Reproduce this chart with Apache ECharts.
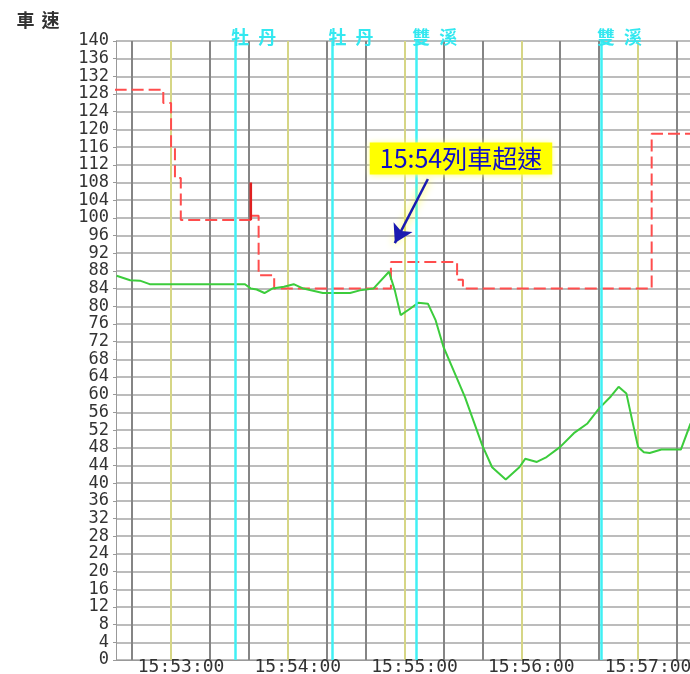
<!DOCTYPE html>
<html><head><meta charset="utf-8">
<script src="https://cdn.jsdelivr.net/npm/echarts@6/dist/echarts.min.js"></script>
<style>html,body{margin:0;padding:0;background:#fff}#c{width:690px;height:674px}</style>
</head><body><div id="c"></div>
<script>
// ---- data ----
const limitSteps = [['15:52:31',129],['15:52:56',126],['15:53:00',116],['15:53:02',109],['15:53:05',99.5],['15:53:41',100.5],['15:53:45',87],['15:53:53',84],['15:54:53',90],['15:55:27',86],['15:55:30',84],['15:57:07',119],['15:57:28',119]];
const limitSpike = [['15:53:41',99.5],['15:53:41',108]];
const speed = [['15:52:32',86.9],['15:52:39',85.9],['15:52:44',85.8],['15:52:49',85],['15:53:38',85],['15:53:41',84],['15:53:44',83.8],['15:53:48',83],['15:53:52',84],['15:53:58',84.4],['15:54:03',85],['15:54:08',84],['15:54:18',83],['15:54:32',83],['15:54:37',83.6],['15:54:44',84],['15:54:52',87.8],['15:54:55',83.6],['15:54:58',78],['15:55:03',79.5],['15:55:07',80.8],['15:55:12',80.6],['15:55:16',76.8],['15:55:20',70.8],['15:55:31',59.5],['15:55:40',48.5],['15:55:45',43.6],['15:55:52',40.8],['15:55:59',43.6],['15:56:02',45.5],['15:56:08',44.8],['15:56:13',45.9],['15:56:20',48.2],['15:56:27',51.3],['15:56:34',53.5],['15:56:40',56.9],['15:56:46',59.6],['15:56:50',61.8],['15:56:54',60.3],['15:56:57',54.2],['15:57:00',48.2],['15:57:03',47.0],['15:57:06',46.8],['15:57:12',47.6],['15:57:22',47.6],['15:57:27',53.5]];
const stationNames = ['牡丹','牡丹','雙溪','雙溪'];
const stationTimes = ['15:53:33','15:54:23','15:55:06','15:56:41'];
const gridTimes = ['15:52:40','15:53:00','15:53:20','15:53:40','15:54:00','15:54:20','15:54:40','15:55:00','15:55:20','15:55:40','15:56:00','15:56:20','15:56:40','15:57:00','15:57:20'];
const labelTimes = ['15:53:00','15:54:00','15:55:00','15:56:00','15:57:00'];
const xStart = '15:52:31.7', xEnd = '15:57:26.7';
const yMin = 0, yMax = 140, yStep = 4;
const yName = '車速';
const annoText = '15:54列車超速';
const annoTip = ['15:54:55', 94.3];
const annoTail = ['15:55:12', 108.8];
const annoBox = ['15:55:29', 113.4];

// ---- helpers ----
function sec(t){const p=t.split(':').map(Number);return p[0]*3600+p[1]*60+p[2];}
function fmt(s){s=Math.round(s);const h=Math.floor(s/3600),m=Math.floor(s%3600/60),x=s%60;const z=n=>String(n).padStart(2,'0');return z(h)+':'+z(m)+':'+z(x);}
const pts = a => a.map(d => [sec(d[0]), d[1]]);

const chart = echarts.init(document.getElementById('c'));
const cjkRich = {c:{width:27,align:'center',fontSize:18,fontWeight:'bold',color:'#33e8f0',fontFamily:'Noto Sans CJK TC'}, sp:{width:37}};
const stationLines = stationTimes.map((t,i)=>({
  xAxis: sec(t),
  label: {formatter: '{sp|}' + stationNames[i].split('').map(ch=>'{c|'+ch+'}').join('')}
}));

chart.setOption({
  animation:false,
  grid:{left:116,right:0,top:41,bottom:14,containLabel:false,outerBoundsMode:'none'},
  xAxis:{
    type:'value', min:sec(xStart), max:sec(xEnd),
    axisLine:{show:true,lineStyle:{color:'#999',width:1}},
    axisTick:{show:false, customValues: gridTimes.map(sec)},
    axisLabel:{customValues: labelTimes.map(sec), formatter:v=>fmt(v), fontFamily:'DejaVu Sans Mono', fontSize:18, lineHeight:16, color:'#333', margin:-1, padding:[0,0,0,20]},
    splitLine:{show:true, lineStyle:{color:['#858585','#d6d686','#858585'], width:2}}
  },
  yAxis:{
    type:'value', min:yMin, max:yMax, interval:yStep,
    name: yName.split('').map(ch=>'{n|'+ch+'}').join(''), nameLocation:'end', nameGap:12,
    nameTextStyle:{align:'right', padding:[0,53,0,0], rich:{n:{width:25,align:'center',fontSize:18,fontWeight:'bold',color:'#333',fontFamily:'Noto Sans CJK TC'}}},
    axisLine:{show:true,lineStyle:{color:'#999',width:1}},
    axisTick:{show:true,length:3,lineStyle:{color:'#999'}},
    axisLabel:{fontFamily:'DejaVu Sans Mono', fontSize:17, color:'#333', margin:7, padding:[0,0,10,0]},
    splitLine:{show:true,lineStyle:{color:'#a6a6a6',width:1.5}}
  },
  series:[
    {type:'line', data:[], silent:true,
     markLine:{silent:true, symbol:'none', animation:false,
       lineStyle:{color:'#40f0f4', width:2.5, type:'solid'},
       label:{show:true, position:'end', distance:-5, rich:cjkRich},
       data: stationLines}},
    {type:'line', name:'limit', data:pts(limitSteps), step:'end', showSymbol:false, symbol:'none',
     lineStyle:{color:'#ff4d4d', width:2, type:[12,5]}, z:3},
    {type:'line', name:'spike', data:pts(limitSpike), showSymbol:false, symbol:'none',
     lineStyle:{color:'#e02020', width:2.5}, z:3},
    {type:'line', name:'speed', data:pts(speed), showSymbol:false, symbol:'none',
     lineStyle:{color:'#3ccc3c', width:2}, z:4,
     markLine:{silent:true, animation:false, symbol:['none','arrow'], symbolSize:[16,18],
       lineStyle:{color:'#1a1ab0', width:2.5, type:'solid', shadowColor:'#ffff00', shadowBlur:8},
       label:{show:false},
       data:[[{coord:[sec(annoTail[0]), annoTail[1]]},{coord:[sec(annoTip[0]), annoTip[1]]}]]},
     markPoint:{silent:true, animation:false, symbol:'rect', symbolSize:1, itemStyle:{color:'rgba(0,0,0,0)'},
       label:{show:true, position:'inside', formatter:annoText, color:'#1010c8', fontSize:25, fontFamily:'Noto Sans CJK TC', backgroundColor:'#ffff00', padding:[4,10,3,10], shadowColor:'#ffff80', shadowBlur:6},
       data:[{coord:[sec(annoBox[0]), annoBox[1]]}]}}
  ]
});
</script></body></html>
